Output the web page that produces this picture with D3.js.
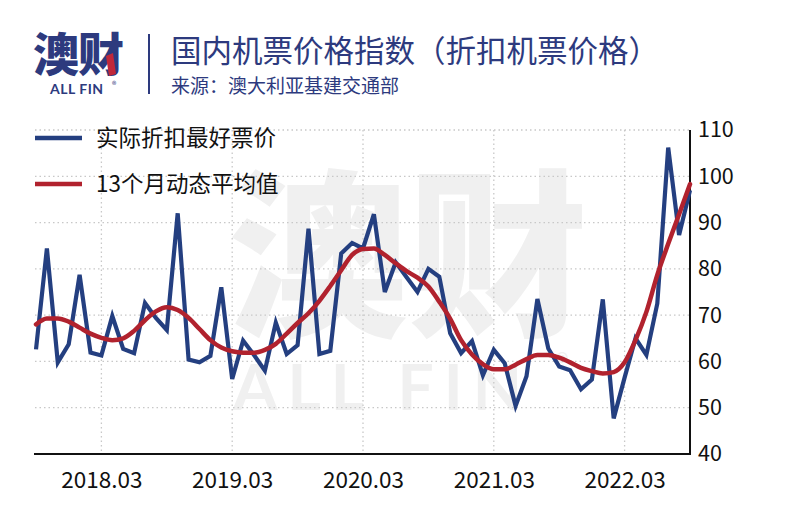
<!DOCTYPE html>
<html>
<head>
<meta charset="utf-8">
<script src="https://cdn.jsdelivr.net/npm/d3@7/dist/d3.min.js"></script>
<style>
  html, body { margin: 0; padding: 0; background: #fff; }
  svg { display: block; }
  text { font-family: "Noto Sans CJK SC", "Noto Sans", sans-serif; }
</style>
</head>
<body>
<svg id="chart" width="800" height="525"></svg>
<script>
// ---------- data ----------
const months = [
  "2017.09","2017.10","2017.11","2017.12",
  "2018.01","2018.02","2018.03","2018.04","2018.05","2018.06","2018.07","2018.08","2018.09","2018.10","2018.11","2018.12",
  "2019.01","2019.02","2019.03","2019.04","2019.05","2019.06","2019.07","2019.08","2019.09","2019.10","2019.11","2019.12",
  "2020.01","2020.02","2020.03","2020.04","2020.05","2020.06","2020.07","2020.08","2020.09","2020.10","2020.11","2020.12",
  "2021.01","2021.02","2021.03","2021.04","2021.05","2021.06","2021.07","2021.08","2021.09","2021.10","2021.11","2021.12",
  "2022.01","2022.02","2022.03","2022.04","2022.05","2022.06","2022.07","2022.08","2022.09"
];
const bestFare = [
  62.6, 84.4, 59.8, 63.7,
  78.7, 61.9, 61.3, 69.8, 62.7, 61.8, 72.6, 69.4, 66.8, 92.0, 60.4, 59.8,
  61.2, 76.0, 56.2, 64.5, 61.4, 58.0, 68.4, 61.6, 63.5, 88.7, 61.6, 62.3,
  83.3, 85.6, 84.4, 91.8, 75.0, 81.4, 78.2, 75.0, 80.0, 78.3, 66.1, 61.8,
  64.4, 57.0, 62.5, 59.6, 50.4, 56.8, 73.5, 62.8, 58.9, 58.1, 54.0, 56.1,
  73.4, 47.7, 56.5, 65.0, 61.4, 72.5, 106.2, 87.3, 97.0
];
const movingAvg13 = [
  68.0, 69.3, 69.3, 68.6,
  67.3, 66.0, 65.1, 64.6, 65.0, 66.6, 68.9, 70.8, 71.7, 71.1, 69.4, 67.0,
  64.6, 63.0, 62.2, 61.9, 61.9, 62.5, 63.8, 66.0, 68.3, 70.4, 73.1, 76.3,
  79.7, 83.0, 84.3, 84.4, 83.0, 81.2, 79.5, 78.1, 76.2, 72.9, 69.2, 64.6,
  61.5, 59.4, 58.3, 58.3, 59.3, 60.5, 61.4, 61.4, 60.8, 59.8, 58.6, 57.9,
  57.4, 57.7, 59.8, 64.6, 70.7, 78.7, 85.4, 91.8, 98.3
];
const xTickLabels = ["2018.03","2019.03","2020.03","2021.03","2022.03"];
const yTicks = [40, 50, 60, 70, 80, 90, 100, 110];
const seriesNames = ["实际折扣最好票价", "13个月动态平均值"];
const titleText = "国内机票价格指数（折扣机票价格）";
const sourceText = "来源：澳大利亚基建交通部";

// ---------- layout ----------
const navy = "#2d3a7e";
const blue = "#243f80";
const red = "#b1222e";
const plotL = 36, plotR = 690, plotT = 130, plotB = 454;

const svg = d3.select("#chart");

const x = d3.scaleLinear().domain([0, months.length - 1]).range([plotL, plotR]);
const y = d3.scaleLinear().domain([40, 110]).range([plotB, plotT]);

// ---------- watermark (one text element) ----------
const wm = svg.append("text").attr("fill", "#f0f0f0").attr("font-weight", 700);
wm.append("tspan").attr("x", 228).attr("y", 322)
  .attr("font-size", 180).attr("font-weight", 900).text("澳财");
wm.append("tspan").attr("x", 233).attr("y", 410)
  .attr("font-size", 64)
  .attr("font-family", "Lato, 'Noto Sans', sans-serif")
  .attr("letter-spacing", 10).text("ALL FIN");
wm.append("tspan").attr("x", 556).attr("y", 372)
  .attr("font-size", 24).text("®");

// ---------- header logo (one text element) ----------
const logo = svg.append("text").attr("fill", navy);
logo.append("tspan").attr("x", 33).attr("y", 71)
  .attr("font-size", 46).attr("font-weight", 900)
  .attr("letter-spacing", -1).text("澳财");
logo.append("tspan").attr("x", 50).attr("y", 94)
  .attr("font-size", 14).attr("font-weight", 700)
  .attr("font-family", "Lato, 'Noto Sans', sans-serif")
  .attr("letter-spacing", 0.5).text("ALL FIN");
logo.append("tspan").attr("x", 112).attr("y", 88)
  .attr("font-size", 9).text("®");
svg.append("polygon")
  .attr("points", "106,56 113,53 116,74 109,76")
  .attr("fill", "#c0283a");
svg.append("line").attr("x1", 149).attr("x2", 149).attr("y1", 34).attr("y2", 94)
  .attr("stroke", navy).attr("stroke-width", 2);
svg.append("text").attr("x", 171).attr("y", 62)
  .attr("font-size", 30.5).attr("fill", navy).text(titleText);
svg.append("text").attr("x", 171).attr("y", 93)
  .attr("font-size", 19).attr("fill", navy).text(sourceText);

// ---------- grid ----------
const tickIdx = xTickLabels.map(l => months.indexOf(l));
const grid = svg.append("g").attr("stroke", "#c8c8c8").attr("stroke-width", 1.3)
  .attr("stroke-dasharray", "1.5,3");
grid.selectAll("line.h").data(yTicks.filter(v => v > 40)).join("line")
  .attr("class", "h")
  .attr("x1", plotL - 1).attr("x2", plotR).attr("y1", d => y(d)).attr("y2", d => y(d));
grid.selectAll("line.v").data(tickIdx).join("line")
  .attr("class", "v")
  .attr("x1", d => x(d)).attr("x2", d => x(d)).attr("y1", plotT).attr("y2", plotB);

// ---------- axes ----------
const xAxis = d3.axisBottom(x).tickValues(tickIdx)
  .tickFormat((d, i) => xTickLabels[i]).tickSize(0).tickPadding(18);
const gx = svg.append("g").attr("transform", `translate(0,${plotB})`).call(xAxis);
gx.select(".domain").remove();
gx.selectAll("text").attr("font-size", 22.5).attr("fill", "#111")
  .attr("font-family", "'Noto Sans', sans-serif");

const yAxis = d3.axisRight(y).tickValues(yTicks).tickSize(0).tickPadding(8);
const gy = svg.append("g").attr("transform", `translate(${plotR},0)`).call(yAxis);
gy.select(".domain").remove();
gy.selectAll("text").attr("font-size", 21.5).attr("fill", "#111")
  .attr("font-family", "'Noto Sans', sans-serif");

svg.append("path")
  .attr("d", `M${plotL - 2},${plotB}H${plotR}V${plotT}`)
  .attr("fill", "none").attr("stroke", "#111").attr("stroke-width", 2);

// ---------- lines ----------
const lineBlue = d3.line().x((d, i) => x(i)).y(d => y(d));
const lineRed = d3.line().x((d, i) => x(i)).y(d => y(d)).curve(d3.curveMonotoneX);

svg.append("path").datum(bestFare)
  .attr("d", lineBlue).attr("fill", "none")
  .attr("stroke", blue).attr("stroke-width", 4.2).attr("stroke-linejoin", "miter");
svg.append("path").datum(movingAvg13)
  .attr("d", lineRed).attr("fill", "none")
  .attr("stroke", red).attr("stroke-width", 4.5).attr("stroke-linecap", "round");

// ---------- legend ----------
const legend = svg.append("g");
const legendItems = [
  { name: seriesNames[0], color: blue, y: 138 },
  { name: seriesNames[1], color: red, y: 184 }
];
legendItems.forEach(it => {
  legend.append("line").attr("x1", 35).attr("x2", 82).attr("y1", it.y).attr("y2", it.y)
    .attr("stroke", it.color).attr("stroke-width", 4.5);
  legend.append("text").attr("x", 96).attr("y", it.y).attr("dy", "0.36em")
    .attr("font-size", 22.5).attr("fill", "#111").text(it.name);
});
</script>
</body>
</html>
